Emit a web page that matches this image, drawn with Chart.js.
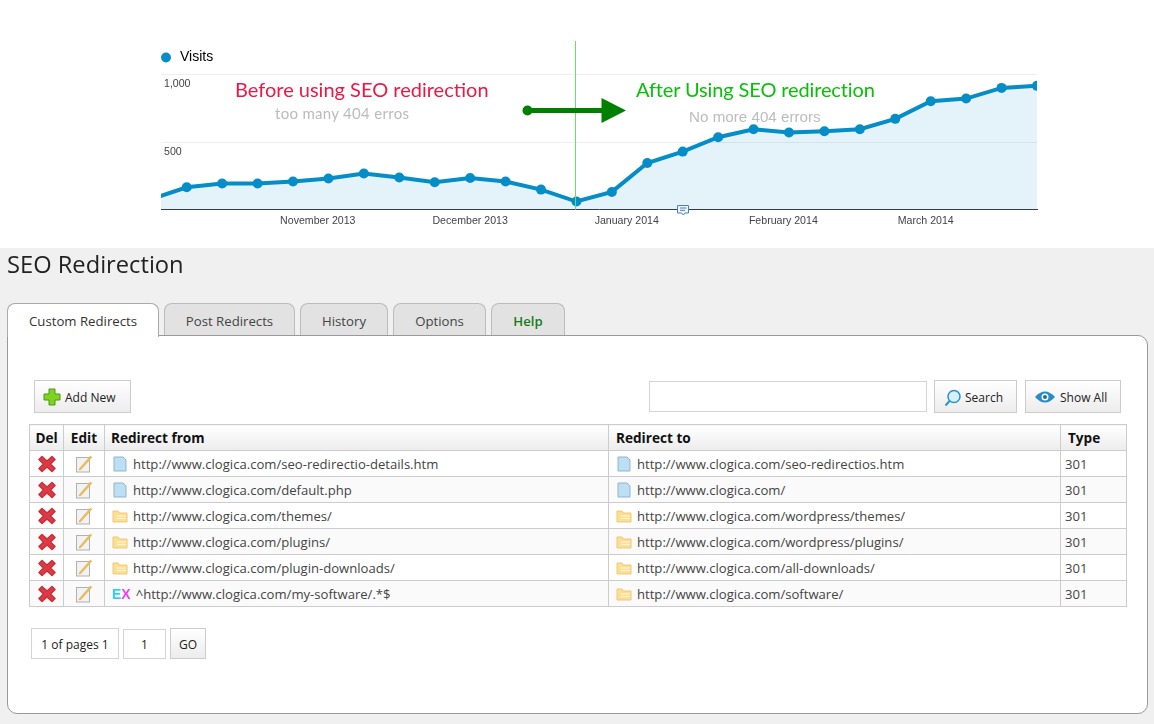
<!DOCTYPE html>
<html>
<head>
<meta charset="utf-8">
<title>SEO Redirection</title>
<script src="https://cdn.jsdelivr.net/npm/chart.js@4/dist/chart.umd.min.js"></script>
<style>
  html, body { margin: 0; padding: 0; }
  body { width: 1154px; height: 724px; overflow: hidden; position: relative; background: #f0f0f0;
         font-family: "Open Sans", sans-serif; color: #444; }
  .abs { position: absolute; white-space: nowrap; }
  #top { position: absolute; left: 0; top: 0; width: 1154px; height: 248px; background: #fff; }
  #chart { position: absolute; left: 0; top: 0; }
  .note { font-family: Lato, sans-serif; }
  #title { left: 7px; top: 247px; font-size: 23.7px; line-height: 34px; color: #222; }
  .tab { position: absolute; top: 303px; height: 32px; box-sizing: border-box; text-align: center; line-height: 35px;
         font-size: 13.2px; color: #444; background: #e2e2e2; border: 1px solid #bbb; border-bottom: 0;
         border-radius: 8px 8px 0 0; }
  .tab.on { background: #fff; border-color: #aaa; height: 34px; z-index: 2; color: #333; }
  .tab.help { color: #1a7a1a; font-weight: 600; }
  #panel { position: absolute; left: 7px; top: 335px; width: 1141px; height: 379px; box-sizing: border-box;
           background: #fff; border: 1px solid #999; border-radius: 0 10px 10px 10px; }
  .btn { position: absolute; box-sizing: border-box; height: 33px; border: 1px solid #ccc; line-height: 33px;
         font-size: 12px; color: #222; background: linear-gradient(#fff, #ececec); }
  .btn svg { position: absolute; }
  .btn span { position: absolute; top: 0; }
  .box { position: absolute; box-sizing: border-box; border: 1px solid #d4d4d4; background: #fff; }
  table { position: absolute; left: 29px; top: 424px; width: 1097px; border-collapse: collapse;
          table-layout: fixed; font-size: 13.1px; }
  th, td { border: 1px solid #ccc; padding: 0 0 0 7px; height: 26px; text-align: left; white-space: nowrap;
           box-sizing: border-box; color: #444; }
  th { background: linear-gradient(#fff, #ececec); color: #111; font-size: 13.6px; font-weight: 700; padding-left: 6px; }
  th.to { padding-left: 7px; }
  th.last { padding-left: 7px; }
  td.last { padding-left: 4px; }
  th.mid, td.mid { text-align: center; padding: 0; }
  tr.alt td { background: #fafafa; }
  td svg { vertical-align: -3px; margin-right: 5px; }
  td.mid svg { margin: 0; vertical-align: -4px; }
  .ex { font-family: "Liberation Sans", sans-serif; font-weight: 700; font-size: 14px; margin-right: 5px;
        background: linear-gradient(90deg, #2fd0f5 0 48%, #f03cf0 48%); -webkit-background-clip: text;
        background-clip: text; color: transparent; }
</style>
</head>
<body>
<svg width="0" height="0" style="position:absolute">
  <symbol id="i-del" viewBox="0 0 18 18"><path d="M4 1.500 9 6 14 1.500 17 4.500 12.500 9 17 13.500 14 16.500 9 12 4 16.500 1 13.500 5.500 9 1 4.500Z" fill="#dc3a44" stroke="#c8303a" stroke-width="1.500" stroke-linejoin="round"/></symbol>
  <symbol id="i-edit" viewBox="0 0 18 18"><rect x="1.500" y="2.500" width="13" height="14.500" fill="#f2f2f2" stroke="#b0b0b0"/><path d="M4.500 13.500 15.500 1 16.800 2.200 6 14.500 4 15Z" fill="#eec05a" stroke="#d9a33a" stroke-width=".5"/></symbol>
  <symbol id="i-doc" viewBox="0 0 16 16"><path d="M2 1H11L14 4V15H2Z" fill="#bcdff5" stroke="#8fb4cc"/></symbol>
  <symbol id="i-dir" viewBox="0 0 16 16"><path d="M1 3H6L7 5H15V14H1Z" fill="#fbdf96" stroke="#f0c870"/><path d="M5 8H14M5 10.500H14" stroke="#fff6d8"/></symbol>
  <symbol id="i-add" viewBox="0 0 18 18"><path d="M6 1H12V6H17V12H12V17H6V12H1V6H6Z" fill="#7ed321" stroke="#4b9a10"/></symbol>
  <symbol id="i-find" viewBox="0 0 18 18"><circle cx="10" cy="7.500" r="6" fill="#d8f0fb" stroke="#2a93c9" stroke-width="1.500"/><path d="M5.500 12 1.500 16.500" stroke="#2a93c9" stroke-width="2"/></symbol>
  <symbol id="i-eye" viewBox="0 0 22 14"><path d="M1 7Q11 -4 21 7 11 18 1 7Z" fill="#2a8cc4"/><circle cx="11" cy="7" r="3.500" fill="#fff"/><circle cx="11" cy="7" r="2" fill="#1c6e9e"/></symbol>
</svg>

<div id="top">
  <canvas id="chart" width="1154" height="248"></canvas>
  <svg class="abs" style="left:0;top:0" width="1154" height="248">
    <circle cx="527.500" cy="110.500" r="5" fill="#008000"/>
    <rect x="527" y="108" width="76" height="5" fill="#008000"/>
    <path d="M601.500 98 626 110.500 601.500 123Z" fill="#008000"/>
    <path d="M677.500 205.500H688.500V213H685L683.300 215 681.500 213H677.500Z" fill="#eef5fb" stroke="#4a80b8"/>
    <path d="M680 208H686.500M680 210.300H685" stroke="#4a80b8"/>
  </svg>
  <div class="abs note" style="left:235px;top:76px;font-size:20px;line-height:26px;color:#ee1744">Before using SEO redirection</div>
  <div class="abs note" style="left:275px;top:104px;font-size:15px;line-height:18px;color:#bbbbbb;letter-spacing:.3px">too many 404 erros</div>
  <div class="abs note" style="left:636px;top:76px;font-size:20px;line-height:26px;color:#08c008;letter-spacing:-.13px">After Using SEO redirection</div>
  <div class="abs" style="left:689px;top:108px;font-family:'Liberation Sans',sans-serif;font-size:15.2px;line-height:18px;color:#bcbcbc">No more 404 errors</div>
</div>

<div class="abs" id="title">SEO Redirection</div>
<div id="tabs"></div>
<div id="panel"></div>

<div class="btn" style="left:34px;top:380px;width:97px"><svg width="18" height="18" style="left:8px;top:7px"><use href="#i-add"/></svg><span style="left:30px">Add New</span></div>
<div class="box" style="left:649px;top:381px;width:278px;height:31px"></div>
<div class="btn" style="left:934px;top:380px;width:83px"><svg width="18" height="18" style="left:9px;top:8px"><use href="#i-find"/></svg><span style="left:30px">Search</span></div>
<div class="btn" style="left:1025px;top:380px;width:96px"><svg width="22" height="14" style="left:8px;top:9px"><use href="#i-eye"/></svg><span style="left:34px">Show All</span></div>

<table id="grid"></table>

<div class="box" style="left:31px;top:628px;width:88px;height:31px;line-height:31px;font-size:12px;color:#222;text-align:center">1 of pages 1</div>
<div class="box" style="left:123px;top:629px;width:43px;height:30px;line-height:30px;font-size:12px;color:#222;text-align:center">1</div>
<div class="btn" style="left:170px;top:628px;width:36px;height:31px;line-height:31px;text-align:center">GO</div>

<script>
"use strict";

// weekly visits
const visitWeeks = [0, 1, 2, 3, 4, 5, 6, 7, 8, 9, 10, 11, 12, 13, 14, 15, 16, 17, 18, 19, 20, 21, 22, 23, 24, 25];
const visitValues = [78, 166, 194, 194, 209, 231, 268, 238, 203, 235, 209, 149, 61, 132, 346, 430, 536, 595, 571, 581, 595, 672, 802, 822, 901, 916];
const monthLabels = ["November 2013", "December 2013", "January 2014", "February 2014", "March 2014"];
const monthWeeks = [4.7, 9, 13.42, 17.84, 21.86];
const markerWeek = 12;

const tabNames = ["Custom Redirects", "Post Redirects", "History", "Options", "Help"];
const tabLefts = [7, 164, 300, 393, 491];
const tabWidths = [152, 131, 88, 93, 74];

const columnNames = ["Del", "Edit", "Redirect from", "Redirect to", "Type"];
const columnClasses = ["mid", "mid", "", "to", "last"];
const columnWidths = [34, 41, 504, 452, 66];
const fromUrls = ["http://www.clogica.com/seo-redirectio-details.htm", "http://www.clogica.com/default.php", "http://www.clogica.com/themes/",
                  "http://www.clogica.com/plugins/", "http://www.clogica.com/plugin-downloads/", "^http://www.clogica.com/my-software/.*$"];
const fromKinds = ["doc", "doc", "dir", "dir", "dir", "ex"];
const toUrls = ["http://www.clogica.com/seo-redirectios.htm", "http://www.clogica.com/", "http://www.clogica.com/wordpress/themes/",
                "http://www.clogica.com/wordpress/plugins/", "http://www.clogica.com/all-downloads/", "http://www.clogica.com/software/"];
const toKinds = ["doc", "doc", "dir", "dir", "dir", "dir"];
const redirectTypes = ["301", "301", "301", "301", "301", "301"];

const BLUE = "#058dc7";

const $ = (id) => document.getElementById(id);
const icon = (name, w, h) => `<svg width="${w}" height="${h}"><use href="#i-${name}"/></svg>`;
const kindIcon = (k) => (k === "ex" ? `<span class="ex">EX</span>` : icon(k, 16, 16));

$("tabs").innerHTML = tabNames.map((t, i) =>
  `<div class="tab${i === 0 ? " on" : ""}${t === "Help" ? " help" : ""}" style="left:${tabLefts[i]}px;width:${tabWidths[i]}px">${t}</div>`).join("");

let h = "<colgroup>" + columnWidths.map((w) => `<col style="width:${w}px">`).join("") + "</colgroup><tr>";
columnNames.forEach((c, i) => { h += `<th class="${columnClasses[i]}">${c}</th>`; });
h += "</tr>";
fromUrls.forEach((u, i) => {
  h += `<tr class="${i % 2 ? "alt" : ""}"><td class="mid">${icon("del", 18, 18)}</td><td class="mid">${icon("edit", 18, 18)}</td>`
    + `<td>${kindIcon(fromKinds[i])}${u}</td><td>${kindIcon(toKinds[i])}${toUrls[i]}</td><td class="last">${redirectTypes[i]}</td></tr>`;
});
$("grid").innerHTML = h;

// vertical marker between "before" and "after", goes up past the plot area
const markerLine = {
  id: "markerLine",
  afterDatasetsDraw(chart) {
    const { ctx, scales } = chart;
    const x = Math.floor(scales.x.getPixelForValue(markerWeek)) - 0.5;
    ctx.save();
    ctx.strokeStyle = "#6fdc6f";
    ctx.lineWidth = 1;
    ctx.beginPath();
    ctx.moveTo(x, 41);
    ctx.lineTo(x, scales.y.getPixelForValue(0));
    ctx.stroke();
    ctx.restore();
  },
};

new Chart($("chart"), {
  type: "line",
  data: {
    datasets: [{
      label: "Visits",
      data: visitWeeks.map((w, i) => ({ x: w, y: visitValues[i] })),
      borderColor: BLUE, borderWidth: 4, tension: 0, clip: 0,
      backgroundColor: "rgba(5,141,199,.11)", fill: "origin",
      pointRadius: 5, pointBackgroundColor: BLUE, pointBorderColor: BLUE, pointBorderWidth: 0,
    }],
  },
  options: {
    responsive: false, animation: false,
    layout: { padding: { left: 149, right: 117, top: 40.5, bottom: 15.5 } },
    plugins: {
      tooltip: { enabled: false },
      legend: {
        position: "top", align: "start",
        labels: {
          color: "#333", font: { family: "'Liberation Sans'", size: 14 }, usePointStyle: true,
          boxWidth: 14, boxHeight: 7, padding: 10,
          generateLabels: () => [{ text: "Visits", fillStyle: BLUE, strokeStyle: BLUE, lineWidth: 0, pointStyle: "circle", datasetIndex: 0 }],
        },
      },
    },
    scales: {
      x: {
        type: "linear", min: 0.274, max: 25,
        afterBuildTicks: (axis) => { axis.ticks = monthWeeks.map((value) => ({ value })); },
        ticks: { autoSkip: false, maxRotation: 0, padding: 5, color: "#444",
                 font: { family: "'Liberation Sans'", size: 10.6 }, callback: (v, i) => monthLabels[i] },
        grid: { display: false, drawTicks: false },
        border: { color: "#333a44", width: 1 },
      },
      y: {
        min: 0, max: 1000,
        afterFit: (axis) => { axis.width = 12; },
        ticks: { stepSize: 500, mirror: true, padding: 3, labelOffset: 10, color: "#444",
                 font: { family: "'Liberation Sans'", size: 10.6 },
                 callback: (v) => (v === 0 ? "" : v.toLocaleString("en-US")) },
        grid: { color: "#eeeeee", drawTicks: false },
        border: { display: false },
      },
    },
  },
  plugins: [markerLine],
});
</script>
</body>
</html>
